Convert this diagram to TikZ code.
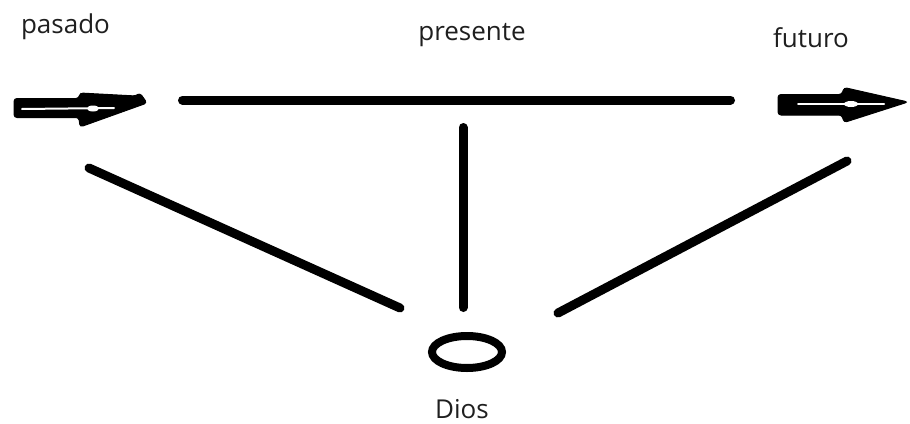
\documentclass[tikz,border=0pt]{standalone}
\usepackage{fontspec}
\setmainfont{Open Sans}
\begin{document}
\begin{tikzpicture}[x=1pt,y=-1pt,
  stroke/.style={line width=9pt,line cap=round,black},
  label/.style={inner sep=0pt,anchor=base,text=black!88,font=\fontsize{26}{30}\selectfont},
  arrowbody/.style={fill=black,draw=black,line width=1pt,rounded corners=3pt},
  gap/.style={draw=white,line width=2pt,line cap=round}]
\useasboundingbox[fill=white] (0,0) rectangle (910,423);
% texts
\node[label] (pasado) at (65.5,33) {pasado};
\node[label] (presente) at (472,40) {presente};
\node[label] (futuro) at (811,47) {futuro};
\node[label] (dios) at (462,418) {Dios};
% coordinates
\coordinate (hl) at (182.5,100);
\coordinate (hr) at (730.5,100);
\coordinate (vt) at (463,127.5);
\coordinate (vb) at (463,307.5);
\coordinate (ls) at (89,168);
\coordinate (le) at (400,308);
\coordinate (rs) at (847,161);
\coordinate (re) at (558,313);
\coordinate (god) at (467,352);
% lines
\draw[stroke] (hl) -- (hr);
\draw[stroke] (vt) -- (vb);
\draw[stroke] (ls) -- (le);
\draw[stroke] (rs) -- (re);
% ellipse
\draw[line width=8pt,black] (god) ellipse [x radius=35, y radius=16];
% left arrow
\path[arrowbody] (14,98.5) -- (79,98.5) -- (80,93) -- (136,96) -- (140,93) -- (147,103) -- (80,127) -- (79,117.5) -- (14,117.5) -- cycle;
\coordinate (la1) at (22,109);
\coordinate (la2) at (114,108);
\draw[gap] (la1) -- (la2);
\fill[white] (93,108.5) ellipse [x radius=6, y radius=3];
% right arrow
\path[arrowbody] (778,94.5) -- (842,94.5) -- (844,87.5) -- (908,102) -- (844,122.5) -- (842,115) -- (778,115) -- cycle;
\coordinate (ra1) at (798,104);
\coordinate (ra2) at (884,104);
\draw[gap] (ra1) -- (ra2);
\fill[white] (851,104) ellipse [x radius=7, y radius=3];
\end{tikzpicture}
\end{document}
